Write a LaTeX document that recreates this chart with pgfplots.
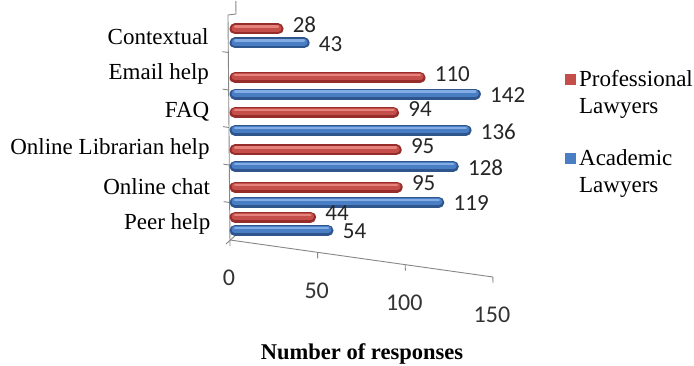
\documentclass[border=0pt]{standalone}
\usepackage{pgfplots}
\usepackage{pgfplotstable}
\usepackage{fontspec}
\pgfplotsset{compat=1.18}
\setmainfont{Liberation Serif}
\newfontfamily\numfont{Carlito}

\definecolor{redEdge}{RGB}{150,45,42}
\definecolor{redBody}{RGB}{196,78,74}
\definecolor{redHi}{RGB}{230,130,124}
\definecolor{blueEdge}{RGB}{46,86,140}
\definecolor{blueBody}{RGB}{74,126,196}
\definecolor{blueHi}{RGB}{132,172,228}
\definecolor{axisgray}{RGB}{134,134,134}

% k: category index (0 = Peer help ... 5 = Contextual)
\pgfplotstableread{
k pro acad
0 44  54
1 95  119
2 95  128
3 94  136
4 110 142
5 28  43
}\responses

\begin{document}
\begin{tikzpicture}[x=1pt,y=1pt]
\useasboundingbox (0,0) rectangle (694,366);

% floor line, left wall and the tick labels
\begin{axis}[
  x={(1.753pt,-0.2467pt)}, y={(-0.33pt,37.5pt)},
  anchor=origin, at={(229.8pt,144.75pt)},
  xmin=0, xmax=150, ymin=-0.5, ymax=5.5,
  axis lines*=left,
  axis line style={axisgray, line width=0.9pt, -},
  tick align=outside,
  major tick length=6pt,
  tick style={axisgray, line width=0.9pt},
  xtick={0,50,100,150},
  /pgf/number format/assume math mode=true,
  xticklabel style={font=\numfont\fontsize{24}{28}\selectfont, text=black!80,
    anchor=center, xshift=-1pt, yshift=-32pt},
  ytick={0.5,1.5,2.5,3.5,4.5},
  yticklabels={},
  extra y ticks={0,1,2,3,4,5},
  extra y tick labels={Peer help, Online chat, Online Librarian help, FAQ, Email help, Contextual},
  extra y tick style={major tick length=0pt,
    yticklabel style={font=\fontsize{23}{26}\selectfont, anchor=east,
      xshift=-16pt, yshift=-3pt}},
  clip=false,
]
\addplot[draw=none, forget plot] coordinates {(0,0)};
\draw[axisgray, line width=0.9pt] (axis cs:0,-0.5) ++(-4pt,-4pt) -- ++(10pt,9pt);
\draw[axisgray, line width=0.9pt] (axis cs:0,5.5) -- ++(8pt,1pt) -- ++(0,-6pt);
\end{axis}

% cylinder bars, value labels and legend
\begin{axis}[
  x={(1.72pt,-0.14pt)}, y={(-1pt,37.2pt)},
  anchor=origin, at={(235pt,149pt)},
  xmin=0, xmax=150, ymin=-0.5, ymax=5.5,
  hide axis, clip=false,
  /pgf/number format/assume math mode=true,
  reverse legend,
  legend style={at={(axis cs:194.3,4.729)}, anchor=north west,
    draw=none, fill=none, inner sep=0pt,
    font=\fontsize{23}{27}\selectfont,
    nodes={inner sep=1.5pt},
    cells={anchor=west, align=left},
    row sep=32pt, column sep=2pt},
]
% Academic Lawyers
\addplot[xcomb, draw=blueEdge, line width=11pt, line cap=round,
  point meta=x, nodes near coords,
  nodes near coords style={font=\numfont\fontsize{23}{26}\selectfont,
    text=black!85, anchor=west, xshift=6pt, yshift=-1pt},
  legend image code/.code={\path[fill=blueBody, draw=none] (0pt,7.5pt) rectangle (11pt,18.5pt);}]
  table[x=acad, y expr=\thisrow{k}-0.16] {\responses};
\addlegendentry{Academic\\Lawyers}
\addplot[xcomb, draw=blueBody, line width=7pt, line cap=round, forget plot]
  table[x=acad, y expr=\thisrow{k}-0.14] {\responses};
\addplot[xcomb, draw=blueHi, line width=2.4pt, line cap=round, forget plot]
  table[x=acad, y expr=\thisrow{k}-0.095] {\responses};
% Professional Lawyers
\addplot[xcomb, draw=redEdge, line width=11pt, line cap=round,
  point meta=x, nodes near coords,
  nodes near coords style={font=\numfont\fontsize{23}{26}\selectfont,
    text=black!85, anchor=west, xshift=6pt, yshift=4pt},
  legend image code/.code={\path[fill=redBody, draw=none] (0pt,7.5pt) rectangle (11pt,18.5pt);}]
  table[x=pro, y expr=\thisrow{k}+0.16] {\responses};
\addlegendentry{Professional\\Lawyers}
\addplot[xcomb, draw=redBody, line width=7pt, line cap=round, forget plot]
  table[x=pro, y expr=\thisrow{k}+0.18] {\responses};
\addplot[xcomb, draw=redHi, line width=2.4pt, line cap=round, forget plot]
  table[x=pro, y expr=\thisrow{k}+0.225] {\responses};
\end{axis}

\node[font=\bfseries\fontsize{22.5}{26}\selectfont] at (362,12) {Number of responses};
\end{tikzpicture}
\end{document}
